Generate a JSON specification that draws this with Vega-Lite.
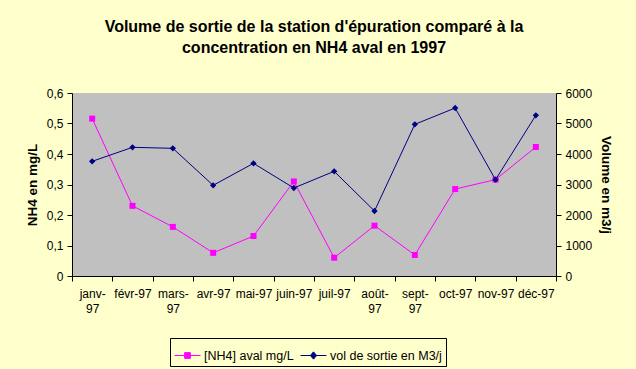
{
"$schema": "https://vega.github.io/schema/vega-lite/v6.json",
"width": 484,
"height": 183,
"autosize": "none",
"padding": {"left": 72, "top": 93, "right": 80, "bottom": 93},
"background": "#FFFFCC",
"config": {
  "font": "Liberation Sans",
  "view": {"fill": "#C0C0C0", "stroke": null},
  "axis": {"domainColor": "#000000", "tickColor": "#000000", "labelColor": "#000000", "titleColor": "#000000", "labelFontSize": 12, "titleFontSize": 13.5, "titleFontWeight": "bold", "tickSize": 5, "grid": false, "labelFont": "Liberation Sans", "titleFont": "Liberation Sans"},
  "legend": {"labelFont": "Liberation Sans"}
},
"title": {"text": ["Volume de sortie de la station d'épuration comparé à la", "concentration en NH4 aval en 1997"], "fontSize": 16, "fontWeight": "bold", "font": "Liberation Sans", "color": "#000000", "anchor": "middle", "lineHeight": 21, "offset": 31},
"data": {"values": [
  {"mois": "janv-97", "serie": "[NH4] aval mg/L", "valeur": 0.516},
  {"mois": "févr-97", "serie": "[NH4] aval mg/L", "valeur": 0.230},
  {"mois": "mars-97", "serie": "[NH4] aval mg/L", "valeur": 0.161},
  {"mois": "avr-97", "serie": "[NH4] aval mg/L", "valeur": 0.076},
  {"mois": "mai-97", "serie": "[NH4] aval mg/L", "valeur": 0.131},
  {"mois": "juin-97", "serie": "[NH4] aval mg/L", "valeur": 0.310},
  {"mois": "juil-97", "serie": "[NH4] aval mg/L", "valeur": 0.060},
  {"mois": "août-97", "serie": "[NH4] aval mg/L", "valeur": 0.165},
  {"mois": "sept-97", "serie": "[NH4] aval mg/L", "valeur": 0.069},
  {"mois": "oct-97", "serie": "[NH4] aval mg/L", "valeur": 0.285},
  {"mois": "nov-97", "serie": "[NH4] aval mg/L", "valeur": 0.316},
  {"mois": "déc-97", "serie": "[NH4] aval mg/L", "valeur": 0.423},
  {"mois": "janv-97", "serie": "vol de sortie en M3/j", "valeur": 3760},
  {"mois": "févr-97", "serie": "vol de sortie en M3/j", "valeur": 4219},
  {"mois": "mars-97", "serie": "vol de sortie en M3/j", "valeur": 4186},
  {"mois": "avr-97", "serie": "vol de sortie en M3/j", "valeur": 2973},
  {"mois": "mai-97", "serie": "vol de sortie en M3/j", "valeur": 3694},
  {"mois": "juin-97", "serie": "vol de sortie en M3/j", "valeur": 2885},
  {"mois": "juil-97", "serie": "vol de sortie en M3/j", "valeur": 3432},
  {"mois": "août-97", "serie": "vol de sortie en M3/j", "valeur": 2131},
  {"mois": "sept-97", "serie": "vol de sortie en M3/j", "valeur": 4973},
  {"mois": "oct-97", "serie": "vol de sortie en M3/j", "valeur": 5508},
  {"mois": "nov-97", "serie": "vol de sortie en M3/j", "valeur": 3157},
  {"mois": "déc-97", "serie": "vol de sortie en M3/j", "valeur": 5269}
]},
"encoding": {
  "x": {"field": "mois", "type": "nominal", "sort": null,
    "scale": {"paddingInner": 0, "paddingOuter": 0},
    "axis": {"title": null, "labelAngle": 0, "tickBand": "extent", "labelPadding": 7, "labelLineHeight": 15, "labelBaseline": "top",
      "labelExpr": "indexof(['janv-97','mars-97','août-97','sept-97'], datum.value) >= 0 ? [slice(datum.value, 0, length(datum.value) - 2), '97'] : datum.value"}}
},
"layer": [
  {
    "transform": [{"filter": "datum.serie === '[NH4] aval mg/L'"}],
    "encoding": {
      "y": {"field": "valeur", "type": "quantitative", "scale": {"domain": [0, 0.6], "nice": false, "zero": true},
        "axis": {"orient": "left", "title": "NH4 en mg/L", "values": [0, 0.1, 0.2, 0.3, 0.4, 0.5, 0.6], "labelPadding": 4, "titlePadding": 7,
          "labelExpr": "datum.value == 0 ? '0' : replace(format(datum.value, '.1f'), '.', ',')"}},
      "color": {"field": "serie", "type": "nominal",
        "scale": {"domain": ["[NH4] aval mg/L", "vol de sortie en M3/j"], "range": ["#FF00FF", "#000080"]},
        "legend": {"title": null, "orient": "none", "legendX": 98, "legendY": 245, "direction": "horizontal",
          "strokeColor": "#000000", "fillColor": "#FFFFCC", "padding": 4, "labelFontSize": 12.5, "labelColor": "#000000",
          "symbolSize": 676, "columnPadding": 4, "labelOffset": 3,
          "encode": {"symbols": {"update": {
            "shape": {"signal": "datum.value === '[NH4] aval mg/L' ? 'M-1,0H1M-0.22,-0.22H0.22V0.22H-0.22Z' : 'M-1,0H1M0,-0.28L0.24,0L0,0.28L-0.24,0Z'"},
            "fill": {"signal": "datum.value === '[NH4] aval mg/L' ? '#FF00FF' : '#000080'"},
            "stroke": {"signal": "datum.value === '[NH4] aval mg/L' ? '#FF00FF' : '#000080'"},
            "strokeWidth": {"value": 1},
            "opacity": {"value": 1}, "fillOpacity": {"value": 1}, "strokeOpacity": {"value": 1}}}}}}
    },
    "layer": [
      {"mark": {"type": "line", "strokeWidth": 1}},
      {"mark": {"type": "point", "shape": "square", "filled": true, "size": 36, "opacity": 1}}
    ]
  },
  {
    "transform": [{"filter": "datum.serie === 'vol de sortie en M3/j'"}],
    "encoding": {
      "y": {"field": "valeur", "type": "quantitative", "scale": {"domain": [0, 6000], "nice": false, "zero": true},
        "axis": {"orient": "right", "title": "Volume en m3/j", "values": [0, 1000, 2000, 3000, 4000, 5000, 6000], "format": "d", "labelPadding": 4, "titlePadding": 7}},
      "color": {"field": "serie", "type": "nominal"}
    },
    "layer": [
      {"mark": {"type": "line", "strokeWidth": 1}},
      {"mark": {"type": "point", "shape": "diamond", "filled": true, "size": 40, "opacity": 1}}
    ]
  }
],
"resolve": {"scale": {"y": "independent"}}
}
